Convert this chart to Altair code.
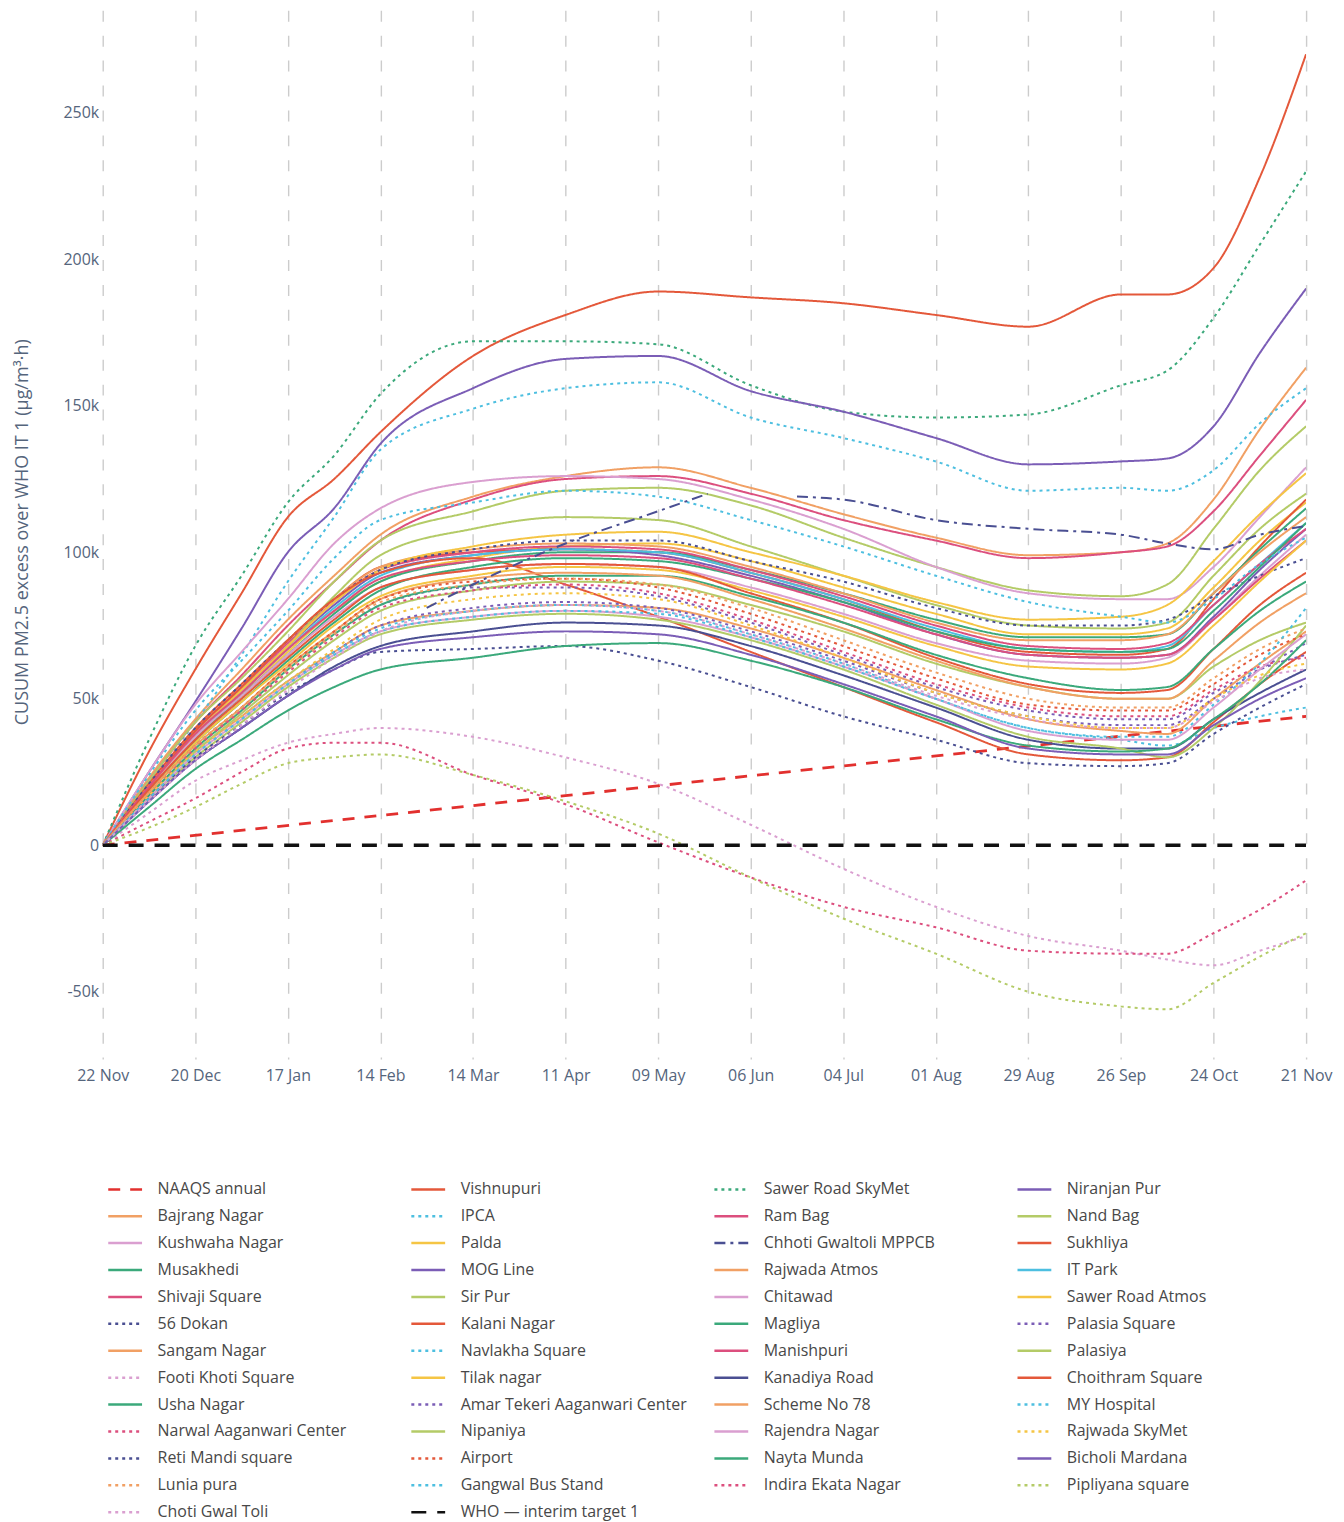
import altair as alt
import pandas as pd

START = "2022-11-22"
END = "2023-11-21"

# sampling days after 22 Nov 2022
DAYS = [0, 14, 28, 42, 56, 70, 84, 112, 140, 168, 196, 224, 252, 280, 308, 322, 336, 350, 364]

TICK_LABEL_DATES = ["2022-11-22", "2022-12-20", "2023-01-17", "2023-02-14", "2023-03-14",
                    "2023-04-11", "2023-05-09", "2023-06-06", "2023-07-04", "2023-08-01",
                    "2023-08-29", "2023-09-26", "2023-10-24", "2023-11-21"]
Y_TICKS = [-50000, 0, 50000, 100000, 150000, 200000, 250000]

# values in thousands (µg/m³·h)
VISHNUPURI = [0, 32, 60, 86, 112, 125, 141, 167, 181, 189, 187, 185, 181, 177, 188, 188, 197, 228, 270]
SAWER_ROAD_SKYMET = [0, 36, 68, 92, 117, 133, 154, 172, 172, 171, 157, 148, 146, 147, 157, 162, 180, 205, 230]
NIRANJAN_PUR = [0, 25, 49, 74, 100, 115, 137, 156, 166, 167, 155, 148, 139, 130, 131, 132, 143, 168, 190]
IPCA = [0, 22, 42, 65, 90, 112, 135, 149, 156, 158, 146, 139, 131, 121, 122, 121, 128, 144, 156]

BAJRANG_NAGAR = [0, 23, 43, 60, 77, 92, 106, 119, 126, 129, 122, 113, 105, 99, 100, 103, 118, 142, 163]
RAM_BAG = [0, 22, 42, 58, 75, 90, 104, 118, 125, 126, 120, 111, 104, 98, 100, 102, 114, 133, 152]
NAND_BAG = [0, 22, 42, 57, 73, 90, 104, 114, 121, 122, 116, 105, 95, 87, 85, 89, 108, 128, 143]
KUSHWAHA_NAGAR = [0, 25, 48, 66, 84, 103, 115, 124, 126, 125, 118, 108, 95, 86, 84, 84, 95, 112, 129]
NAVLAKHA_SQUARE = [0, 24, 46, 63, 80, 98, 111, 117, 121, 119, 111, 102, 92, 83, 78, 76, 84, 96, 105]
SIR_PUR = [0, 20, 38, 52, 68, 85, 99, 108, 112, 111, 102, 92, 82, 75, 74, 76, 92, 108, 120]
SAWER_ROAD_ATMOS = [0, 20, 38, 53, 68, 83, 94, 102, 106, 107, 100, 92, 83, 77, 78, 82, 97, 113, 127]
DOKAN_56 = [0, 21, 40, 55, 70, 84, 94, 101, 104, 104, 97, 90, 81, 75, 75, 77, 85, 92, 98]
PALDA = [0, 19, 37, 51, 66, 80, 90, 98, 102, 103, 97, 88, 79, 72, 72, 74, 88, 104, 117]
RAJWADA_ATMOS = [0, 20, 39, 54, 70, 84, 95, 101, 103, 102, 95, 86, 76, 70, 70, 72, 86, 100, 112]
SHIVAJI_SQUARE = [0, 20, 39, 54, 69, 83, 94, 100, 102, 101, 94, 85, 75, 68, 67, 69, 82, 96, 108]
IT_PARK = [0, 19, 37, 52, 67, 81, 92, 99, 101, 100, 93, 84, 74, 67, 66, 68, 82, 96, 110]
SUKHLIYA = [0, 21, 40, 55, 70, 84, 95, 100, 101, 100, 93, 84, 73, 66, 65, 67, 84, 102, 118]
MUSAKHEDI = [0, 19, 36, 51, 65, 79, 90, 97, 100, 100, 94, 86, 77, 71, 71, 72, 86, 101, 115]
MOG_LINE = [0, 20, 38, 53, 68, 82, 93, 99, 101, 99, 92, 83, 72, 65, 64, 65, 78, 94, 108]
MANISHPURI = [0, 20, 38, 52, 67, 80, 91, 97, 99, 98, 91, 82, 72, 65, 64, 65, 77, 91, 104]
MAGLIYA = [0, 18, 35, 49, 63, 76, 87, 95, 98, 97, 91, 83, 73, 67, 66, 67, 80, 95, 110]
CHITAWAD = [0, 19, 37, 51, 65, 78, 88, 94, 96, 95, 88, 79, 69, 63, 62, 64, 77, 92, 106]
TILAK_NAGAR = [0, 18, 35, 49, 62, 75, 85, 92, 95, 94, 87, 78, 68, 61, 60, 62, 75, 90, 104]
CHOITHRAM_SQUARE = [0, 19, 36, 50, 64, 77, 88, 94, 96, 95, 86, 76, 64, 55, 52, 53, 67, 82, 93]
USHA_NAGAR = [0, 17, 33, 46, 60, 72, 82, 89, 92, 92, 85, 76, 65, 57, 53, 54, 67, 80, 90]
SCHEME_NO_78 = [0, 18, 34, 47, 61, 73, 84, 91, 93, 92, 84, 74, 63, 54, 50, 50, 63, 76, 86]
PALASIYA = [0, 17, 32, 45, 58, 70, 80, 87, 90, 89, 82, 73, 62, 54, 50, 50, 61, 70, 76]
LUNIA_PURA = [0, 18, 34, 47, 60, 72, 83, 89, 91, 89, 81, 70, 59, 50, 47, 47, 57, 67, 74]
AIRPORT = [0, 18, 34, 47, 61, 73, 84, 90, 91, 88, 79, 68, 57, 48, 46, 46, 55, 65, 72]
NARWAL = [0, 17, 33, 46, 59, 71, 81, 87, 89, 86, 77, 66, 55, 47, 44, 44, 53, 61, 64]
PALASIA_SQUARE = [0, 18, 34, 47, 60, 72, 82, 88, 88, 85, 76, 65, 54, 46, 43, 43, 52, 60, 65]
RETI_MANDI = [0, 16, 30, 41, 52, 60, 66, 67, 68, 63, 54, 44, 36, 28, 27, 28, 38, 47, 55]
AMAR_TEKERI = [0, 16, 31, 43, 55, 66, 75, 81, 83, 81, 73, 63, 52, 44, 41, 41, 50, 60, 69]
RAJWADA_SKYMET = [0, 17, 32, 44, 56, 67, 77, 84, 86, 84, 75, 64, 52, 44, 40, 40, 50, 58, 62]
CHOTI_GWAL_TOLI = [0, 15, 29, 41, 53, 64, 73, 80, 82, 80, 72, 62, 51, 43, 40, 40, 49, 57, 60]
KALANI_NAGAR = [0, 20, 39, 54, 70, 84, 93, 98, 89, 78, 66, 54, 42, 31, 29, 30, 42, 55, 66]
KANADIYA_ROAD = [0, 15, 29, 40, 51, 61, 68, 73, 76, 75, 68, 58, 47, 36, 33, 33, 43, 52, 60]
BICHOLI_MARDANA = [0, 15, 29, 40, 51, 60, 67, 71, 73, 72, 65, 55, 44, 33, 31, 31, 41, 50, 57]
NAYTA_MUNDA = [0, 13, 26, 36, 46, 54, 60, 64, 68, 69, 63, 54, 43, 34, 32, 33, 43, 55, 70]
NIPANIYA = [0, 16, 30, 42, 54, 64, 72, 77, 79, 77, 70, 60, 48, 37, 33, 30, 40, 56, 75]
RAJENDRA_NAGAR = [0, 16, 31, 43, 55, 65, 73, 78, 80, 78, 71, 61, 50, 39, 36, 36, 47, 60, 72]
MY_HOSPITAL = [0, 17, 32, 44, 56, 66, 74, 80, 82, 80, 72, 62, 50, 40, 36, 34, 40, 44, 47]
GANGWAL = [0, 16, 31, 43, 55, 65, 73, 78, 80, 79, 71, 61, 50, 40, 37, 37, 48, 62, 81]
SANGAM_NAGAR = [0, 17, 32, 44, 56, 66, 75, 80, 82, 81, 74, 64, 53, 43, 39, 38, 50, 62, 73]

FOOTI_KHOTI = [0, 11, 22, 29, 35, 38, 40, 37, 30, 21, 7, -8, -21, -31, -36, -39, -41, -36, -31]
INDIRA_EKATA = [0, 8, 16, 25, 33, 35, 35, 24, 14, 1, -11, -21, -28, -36, -37, -37, -30, -22, -12]
PIPLIYANA = [0, 6, 13, 21, 28, 30, 31, 24, 15, 4, -11, -25, -37, -50, -55, -56, -47, -38, -30]

# Chhoti Gwaltoli MPPCB: two runs with a data gap
CHHOTI_DAYS_A = [98, 112, 140, 168, 183]
CHHOTI_A = [81, 89, 103, 114, 120]
CHHOTI_DAYS_B = [210, 224, 252, 280, 308, 322, 336, 350, 364]
CHHOTI_B = [119, 118, 111, 108, 106, 103, 101, 106, 109]

NAAQS_DAYS = [0, 364]
NAAQS = [0, 44]
WHO_DAYS = [0, 364]
WHO = [0, 0]

LEGEND_ORDER = [
    "NAAQS annual", "Vishnupuri", "Sawer Road SkyMet", "Niranjan Pur",
    "Bajrang Nagar", "IPCA", "Ram Bag", "Nand Bag",
    "Kushwaha Nagar", "Palda", "Chhoti Gwaltoli MPPCB", "Sukhliya",
    "Musakhedi", "MOG Line", "Rajwada Atmos", "IT Park",
    "Shivaji Square", "Sir Pur", "Chitawad", "Sawer Road Atmos",
    "56 Dokan", "Kalani Nagar", "Magliya", "Palasia Square",
    "Sangam Nagar", "Navlakha Square", "Manishpuri", "Palasiya",
    "Footi Khoti Square", "Tilak nagar", "Kanadiya Road", "Choithram Square",
    "Usha Nagar", "Amar Tekeri Aaganwari Center", "Scheme No 78", "MY Hospital",
    "Narwal Aaganwari Center", "Nipaniya", "Rajendra Nagar", "Rajwada SkyMet",
    "Reti Mandi square", "Airport", "Nayta Munda", "Bicholi Mardana",
    "Lunia pura", "Gangwal Bus Stand", "Indira Ekata Nagar", "Pipliyana square",
    "Choti Gwal Toli", "WHO — interim target 1",
]

STATION_SERIES = {
    "Vishnupuri": VISHNUPURI, "Sawer Road SkyMet": SAWER_ROAD_SKYMET, "Niranjan Pur": NIRANJAN_PUR,
    "Bajrang Nagar": BAJRANG_NAGAR, "IPCA": IPCA, "Ram Bag": RAM_BAG, "Nand Bag": NAND_BAG,
    "Kushwaha Nagar": KUSHWAHA_NAGAR, "Palda": PALDA, "Sukhliya": SUKHLIYA,
    "Musakhedi": MUSAKHEDI, "MOG Line": MOG_LINE, "Rajwada Atmos": RAJWADA_ATMOS, "IT Park": IT_PARK,
    "Shivaji Square": SHIVAJI_SQUARE, "Sir Pur": SIR_PUR, "Chitawad": CHITAWAD, "Sawer Road Atmos": SAWER_ROAD_ATMOS,
    "56 Dokan": DOKAN_56, "Kalani Nagar": KALANI_NAGAR, "Magliya": MAGLIYA, "Palasia Square": PALASIA_SQUARE,
    "Sangam Nagar": SANGAM_NAGAR, "Navlakha Square": NAVLAKHA_SQUARE, "Manishpuri": MANISHPURI, "Palasiya": PALASIYA,
    "Footi Khoti Square": FOOTI_KHOTI, "Tilak nagar": TILAK_NAGAR, "Kanadiya Road": KANADIYA_ROAD,
    "Choithram Square": CHOITHRAM_SQUARE, "Usha Nagar": USHA_NAGAR, "Amar Tekeri Aaganwari Center": AMAR_TEKERI,
    "Scheme No 78": SCHEME_NO_78, "MY Hospital": MY_HOSPITAL, "Narwal Aaganwari Center": NARWAL,
    "Nipaniya": NIPANIYA, "Rajendra Nagar": RAJENDRA_NAGAR, "Rajwada SkyMet": RAJWADA_SKYMET,
    "Reti Mandi square": RETI_MANDI, "Airport": AIRPORT, "Nayta Munda": NAYTA_MUNDA,
    "Bicholi Mardana": BICHOLI_MARDANA, "Lunia pura": LUNIA_PURA, "Gangwal Bus Stand": GANGWAL,
    "Indira Ekata Nagar": INDIRA_EKATA, "Pipliyana square": PIPLIYANA, "Choti Gwal Toli": CHOTI_GWAL_TOLI,
}

# ---- styling ----
PALETTE = ["#E4583A", "#3BA97B", "#7B5DB6", "#F1A064", "#4DBFE0",
           "#DC4F7E", "#B4CB67", "#DA9FD0", "#F5C544", "#4A4F92"]
DOTTED = {"IPCA", "Sawer Road SkyMet", "56 Dokan", "Navlakha Square", "Footi Khoti Square",
          "Amar Tekeri Aaganwari Center", "Narwal Aaganwari Center", "Reti Mandi square", "Airport",
          "Lunia pura", "Gangwal Bus Stand", "Choti Gwal Toli", "Palasia Square", "MY Hospital",
          "Rajwada SkyMet", "Indira Ekata Nagar", "Pipliyana square"}

colors, dashes = [], []
for i, name in enumerate(LEGEND_ORDER):
    if name == "NAAQS annual":
        colors.append("#E2302E"); dashes.append([12, 10])
    elif name.startswith("WHO"):
        colors.append("#111111"); dashes.append([15, 11])
    else:
        colors.append(PALETTE[(i - 1) % 10])
        if name == "Chhoti Gwaltoli MPPCB":
            dashes.append([11, 5, 3, 5])
        elif name in DOTTED:
            dashes.append([3, 4])
        else:
            dashes.append([1, 0])

start = pd.Timestamp(START)


def day_str(d):
    return (start + pd.Timedelta(days=d)).strftime("%Y-%m-%d")


def rows(name, days, vals, part):
    return [{"station": name, "part": part, "date": day_str(d), "value": v * 1000}
            for d, v in zip(days, vals)]


station_rows = []
for name, vals in STATION_SERIES.items():
    station_rows += rows(name, DAYS, vals, name + "_a")
station_rows += rows("Chhoti Gwaltoli MPPCB", CHHOTI_DAYS_A, CHHOTI_A, "chhoti_a")
station_rows += rows("Chhoti Gwaltoli MPPCB", CHHOTI_DAYS_B, CHHOTI_B, "chhoti_b")
naaqs_rows = rows("NAAQS annual", NAAQS_DAYS, NAAQS, "naaqs")
who_rows = rows("WHO — interim target 1", WHO_DAYS, WHO, "who")

FONT = "Open Sans"
AXIS_COLOR = "#55657c"


def dt(s):
    t = pd.Timestamp(s)
    return alt.DateTime(year=t.year, month=t.month, date=t.day, utc=True)


legend = alt.Legend(
    title=None, orient="none", legendX=4, legendY=1164, columns=4, direction="horizontal",
    symbolType="stroke", symbolSize=1150, symbolStrokeWidth=2.5, symbolLimit=0,
    labelFont=FONT, labelFontSize=16, labelColor="#484848", labelLimit=330,
    columnPadding=22, rowPadding=0, gridAlign="all", padding=0, labelOffset=14,
)

x_enc = alt.X(
    "date:T",
    scale=alt.Scale(type="utc", domain=[dt(START), dt(END)]),
    axis=alt.Axis(
        values=[dt(s) for s in TICK_LABEL_DATES], format="%d %b", title=None,
        grid=True, gridDash=[11, 14], gridColor="#cccccc", gridWidth=1.4,
        domain=False, ticks=False, labelFont=FONT, labelFontSize=16,
        labelColor=AXIS_COLOR, labelPadding=8, labelOverlap=False, labelFlush=False,
    ),
)
y_enc = alt.Y(
    "value:Q",
    scale=alt.Scale(domain=[-73000, 285000], nice=False, zero=False),
    axis=alt.Axis(
        values=Y_TICKS,
        labelExpr="datum.value == 0 ? '0' : (datum.value / 1000) + 'k'",
        grid=False, domain=False, ticks=False, labelFont=FONT, labelFontSize=16,
        labelColor=AXIS_COLOR, labelPadding=4,
        title="CUSUM PM2.5 excess over WHO IT 1 (µg/m³·h)", titleFont=FONT,
        titleFontSize=18, titleFontWeight="normal", titleColor=AXIS_COLOR,
        titleX=-80, titleY=523, titleAngle=270, titleAlign="center", titleBaseline="middle",
    ),
)
color_enc = alt.Color("station:N", scale=alt.Scale(domain=LEGEND_ORDER, range=colors), legend=legend)
dash_enc = alt.StrokeDash("station:N", scale=alt.Scale(domain=LEGEND_ORDER, range=dashes), legend=legend)


def layer(data, width):
    return alt.Chart(alt.Data(values=data)).mark_line(
        strokeWidth=width, clip=True, interpolate="monotone"
    ).encode(x=x_enc, y=y_enc, color=color_enc, strokeDash=dash_enc, detail="part:N")


chart = alt.layer(
    layer(naaqs_rows, 2.8),
    layer(station_rows, 2.0),
    layer(who_rows, 3.4),
).properties(
    width=1207, height=1052,
    autosize=alt.AutoSizeParams(type="none"),
    padding={"left": 95, "top": 0, "right": 30, "bottom": 462},
    background="white",
).configure_view(stroke=None)

chart.save("out.html", embed_options={"renderer": "svg", "actions": False})
